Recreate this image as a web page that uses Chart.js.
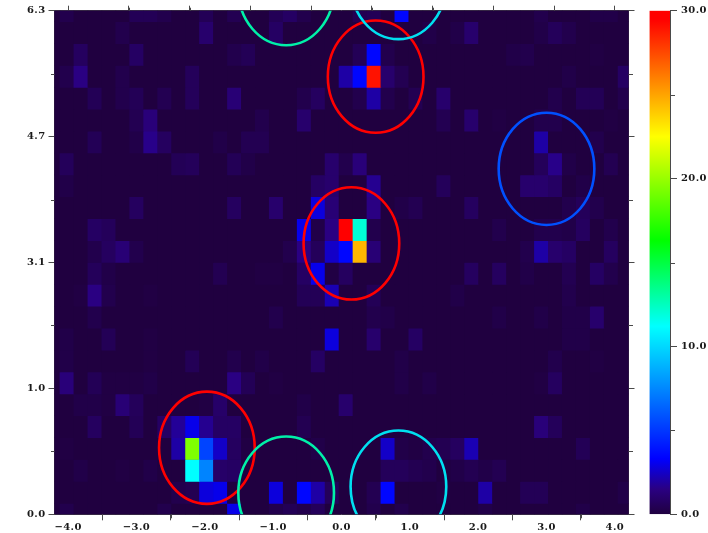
<!DOCTYPE html>
<html><head><meta charset="utf-8">
<style>
html,body{margin:0;padding:0;background:#fff;width:708px;height:533px;overflow:hidden}
canvas{position:absolute;top:0;filter:blur(0.45px)}
#map{left:0}
#bar{left:640px}
</style>
<script src="https://cdn.jsdelivr.net/npm/chart.js@4/dist/chart.umd.min.js"></script>
</head><body>
<canvas id="map" width="640" height="533"></canvas>
<canvas id="bar" width="68" height="533"></canvas>
<script>
// bin centres
const xCenters=[-4.222,-4.018,-3.814,-3.609,-3.405,-3.201,-2.997,-2.793,-2.588,-2.384,-2.180,-1.976,-1.772,-1.567,-1.363,-1.159,-0.955,-0.751,-0.546,-0.342,-0.138,0.066,0.270,0.475,0.679,0.883,1.087,1.291,1.496,1.700,1.904,2.108,2.312,2.517,2.721,2.925,3.129,3.333,3.538,3.742,3.946,4.150];
const yCenters=[6.283,6.010,5.736,5.463,5.190,4.917,4.644,4.371,4.098,3.824,3.551,3.278,3.005,2.732,2.459,2.185,1.912,1.639,1.366,1.093,0.820,0.546,0.273,0];
const yHalf=0.1366;
// counts per bin, top row first
const counts=[
[0,.3,0,0,0,0,.5,.5,.3,0, 0,.5,0,.4,0,0,.5,.8,.3,0, 0,0,.4,.5,0,3.5,0,0,0,0, 0,0,0,0,0,.3,0,0,0,.2, .2,0],
[0,0,0,0,0,.3,0,0,0,0, 0,1,0,0,0,0,.8,0,0,0, 0,0,0,0,0,0,0,.2,0,.2, 1,0,0,0,0,.2,.6,.3,0,0, 0,0],
[0,0,.7,0,0,0,.8,0,0,0, 0,0,0,.3,.5,0,0,0,0,0, 0,0,.5,3.5,.3,0,0,0,0,0, 0,0,0,.2,.3,0,0,0,0,.1, 0,0],
[0,.3,1.5,0,0,.3,0,0,0,0, .6,0,0,0,0,0,0,0,0,0, 0,2,3.5,29,1,.4,0,0,0,0, 0,0,0,0,0,0,0,.2,0,0, 0,.8],
[0,0,0,.5,0,.3,.5,0,.4,0, .6,0,0,1.2,0,0,0,0,.3,.7, 0,0,.3,2,.3,0,.4,0,1,0, 0,0,0,0,0,0,.3,0,.5,.5, 0,.3],
[0,0,0,0,0,0,.4,1.3,0,0, 0,0,0,0,0,.3,0,0,1,0, 0,0,0,0,0,0,0,0,.4,0, 1,0,.1,0,0,.3,.3,0,0,0, .1,0],
[0,0,0,.5,0,0,.2,1.6,.7,0, 0,0,.2,0,.4,.4,0,0,0,0, 0,0,0,0,0,0,0,0,0,0, 0,0,0,0,0,2,0,0,0,.3, 0,0],
[0,.6,0,0,0,0,0,0,0,.5, .6,0,0,.5,.2,0,0,0,0,0, 1,.3,1.3,0,0,0,0,0,0,0, 0,0,0,0,0,.6,1.6,.2,0,0, .4,0],
[0,.2,0,0,0,0,0,0,0,0, 0,0,0,0,0,0,0,0,0,.8, 1,0,0,1.7,0,0,0,0,.6,0, 0,0,0,0,1,1,.8,0,.2,0, 0,0],
[0,0,0,0,0,0,.7,0,0,0, 0,0,0,.7,0,0,1,0,0,2.8, 1.2,0,0,1.5,0,.2,.4,0,0,0, .7,0,0,0,0,0,0,.3,.6,.3, 0,0],
[0,0,0,.8,.6,0,0,0,0,0, 0,0,0,0,0,0,0,0,3,.2, 1.5,30,12,.3,0,0,0,0,0,0, 0,0,.3,0,0,.3,.3,.2,.7,0, .3,0],
[0,0,0,.3,.7,1.2,.3,0,0,0, 0,0,0,0,0,0,0,.3,1.5,.6, 2.5,3.5,24.5,1.2,0,0,0,0,0,0, 0,0,0,0,.3,2,1,.8,0,0, .7,0],
[0,0,0,.6,.2,0,0,0,0,0, 0,0,.4,0,0,.1,.1,0,.8,3, .1,.7,0,0,0,0,0,0,0,0, .7,0,.7,0,.2,0,0,.4,0,.8, .3,0],
[0,0,.1,1.5,.3,0,0,.1,0,0, 0,0,0,0,0,0,0,0,.5,.5, 2.2,0,0,.5,0,0,0,0,0,.2, 0,0,0,0,0,0,0,.3,0,0, 0,0],
[0,0,0,.3,0,0,0,0,0,0, 0,0,0,0,0,0,.3,0,0,0, 0,0,0,.3,.2,0,0,0,0,0, 0,0,.2,0,0,.2,0,.2,.2,1, 0,0],
[0,.2,0,0,.5,0,0,.1,0,0, 0,0,0,0,0,0,0,0,0,0, 2.8,0,0,1,0,0,.8,0,0,0, 0,0,0,0,0,0,0,.2,.2,0, 0,0],
[0,.2,0,0,0,0,0,.1,0,0, .5,0,0,.3,0,.2,0,0,0,.8, 0,0,0,0,0,.2,0,0,0,0, 0,0,0,0,0,0,.3,0,0,.1, 0,0],
[0,1.3,0,.5,.1,.1,.1,.2,0,0, 0,0,0,1.5,.5,0,.1,0,0,0, 0,0,0,0,0,.2,0,.2,0,0, 0,0,0,0,0,.1,.7,0,0,0, 0,0],
[0,0,.2,.2,.1,1.2,.6,0,0,0, 0,.1,.9,0,0,0,0,0,.2,0, 0,1,0,0,0,0,0,0,0,0, 0,0,0,0,0,0,0,0,0,0, 0,0],
[0,0,0,.7,0,0,.5,0,.8,1.8, 3,1.7,.8,.8,0,0,0,0,.4,0, 0,0,0,0,0,0,0,0,0,0, 0,0,0,0,0,1.3,.6,0,0,0, 0,0],
[0,.1,0,0,0,0,0,0,0,2, 19.4,5.4,2.5,.7,.1,0,0,0,0,.2, 0,0,0,0,2.5,.2,.1,.3,.4,.7, 2.2,0,0,0,0,0,0,0,.5,0, 0,0],
[0,0,.2,0,0,.1,0,.2,0,0, 11.2,7.4,.9,.8,0,0,0,0,0,0, 0,0,0,0,.6,.6,.4,.3,0,.2, .4,.2,.4,0,0,0,0,0,0,0, 0,0],
[0,0,0,0,0,0,0,0,0,.3, .4,2.8,3,0,0,0,2.8,0,3.5,2, .6,0,0,.4,3.5,0,0,0,.1,0, 0,2,0,0,.5,.5,0,0,0,0, 0,.2],
[0,.3,0,0,0,0,0,0,.3,0, 0,0,0,3,0,0,.3,.5,.3,.6, 0,0,0,.3,0,.3,0,0,0,0, 0,.2,0,0,0,0,0,0,.2,0, 0,0]
];
// circles marked on the map
const ringX=[0.50,0.145,-1.97,3.0,-0.81,-0.81,0.833,0.833];
const ringY=[5.46,3.38,0.83,4.31,0.27,6.553,0.345,6.628];
const ringColor=['#ff0000','#ff0000','#ff0000','#0050ff','#00f0a8','#00f0a8','#00e0f0','#00e0f0'];
const ringRadius=0.7;
// axes
const xMajor=[-4,-3,-2,-1,0,1,2,3,4];
const xMajorLabels=['−4.0','−3.0','−2.0','−1.0','0.0','1.0','2.0','3.0','4.0'];
const xMinor=[-3.5,-2.5,-1.5,-0.5,0.5,1.5,2.5,3.5];
const yMajor=[0,1.5708,3.1416,4.7124,6.2832];
const yMajorLabels=['0.0','1.0','3.1','4.7','6.3'];
const yMinor=[0.7854,2.3562,3.927,5.4978];
const barMajor=[0,10,20,30];
const barLabels=['0.0','10.0','20.0','30.0'];
const barMinor=[5,15,25];
// colour table: value, r, g, b
const stopValue=[0,1.5,3.3,11.2,16.3,22.5,29.5,30];
const stopRGB=[[32,0,64],[42,0,130],[0,0,255],[0,255,255],[0,255,0],[255,255,0],[255,0,0],[255,0,0]];
const MIN_COUNT=0,MAX_COUNT=30;

function colorFor(v){
  let i=0;while(i<stopValue.length-2&&v>stopValue[i+1])i++;
  const t=Math.min(1,(v-stopValue[i])/(stopValue[i+1]-stopValue[i]));
  const a=stopRGB[i],b=stopRGB[i+1];
  return 'rgb('+a.map((c,k)=>Math.round(c+(b[k]-c)*t)).join(',')+')';
}
const AXIS='#4a4a4a',TEXT='#1a1a1a';
const FONT={family:'"DejaVu Serif"',size:10,weight:'bold'};
const fixW=w=>s=>{s.width=w;};
const fixH=h=>s=>{s.height=h;};
const setTicks=vals=>s=>{s.ticks=vals.map(v=>({value:v}));};
const fmt=(vals,labels)=>v=>{const i=vals.indexOf(v);return i<0?'':labels[i];};

const axisCommon={
  grid:{drawOnChartArea:false,tickColor:AXIS,tickWidth:1},
  border:{color:AXIS,width:1}
};
const datasets=counts.map((row,r)=>({
  data:row.map((v,c)=>({x:xCenters[c],y:[yCenters[r]-yHalf,yCenters[r]+yHalf]})),
  backgroundColor:row.map(colorFor),
  borderWidth:0,barPercentage:1,categoryPercentage:1,grouped:false
}));
function minor(chart,scale,vals,len,dir){
  const c=chart.ctx;c.save();c.strokeStyle=AXIS;c.lineWidth=1;c.beginPath();
  vals.forEach(v=>{
    const p=Math.round(scale.getPixelForValue(v))+0.5;
    if(dir==='b'){c.moveTo(p,scale.top);c.lineTo(p,scale.top+len);}
    if(dir==='t'){c.moveTo(p,scale.bottom);c.lineTo(p,scale.bottom-len);}
    if(dir==='l'){c.moveTo(scale.right,p);c.lineTo(scale.right-len,p);}
    if(dir==='r'){c.moveTo(scale.left,p);c.lineTo(scale.left+len,p);}
  });
  c.stroke();c.restore();
}
const spacing={id:'spacing',beforeDraw(ch){ch.ctx.letterSpacing='0.4px';}};
new Chart(document.getElementById('map'),{
  type:'bar',
  data:{datasets},
  options:{
    responsive:false,animation:false,devicePixelRatio:1,
    layout:{padding:0},
    plugins:{legend:{display:false},tooltip:{enabled:false}},
    scales:{
      x:{type:'linear',position:'bottom',min:-4.2,max:4.2,offset:false,
        ...axisCommon,grid:{...axisCommon.grid,tickLength:6},
        afterFit:fixH(18.7),afterBuildTicks:setTicks(xMajor),
        ticks:{font:FONT,color:TEXT,padding:1,maxRotation:0,autoSkip:false,callback:fmt(xMajor,xMajorLabels)}},
      xTop:{type:'linear',position:'top',min:-4.2,max:4.2,
        ...axisCommon,grid:{...axisCommon.grid,tickLength:5},
        afterFit:fixH(10.7),afterBuildTicks:setTicks(xMajor),
        ticks:{display:false}},
      y:{type:'linear',position:'left',min:0,max:6.2832,
        ...axisCommon,grid:{...axisCommon.grid,tickLength:6},
        afterFit:fixW(54.5),afterBuildTicks:setTicks(yMajor),
        ticks:{font:FONT,color:TEXT,padding:3,autoSkip:false,callback:fmt(yMajor,yMajorLabels)}},
      yRight:{type:'linear',position:'right',min:0,max:6.2832,
        ...axisCommon,grid:{...axisCommon.grid,tickLength:6},
        afterFit:fixW(11.5),afterBuildTicks:setTicks(yMajor),
        ticks:{display:false}}
    }
  },
  plugins:[spacing,{
    id:'mapExtras',
    beforeDatasetsDraw(ch){
      const a=ch.chartArea,c=ch.ctx;c.save();c.fillStyle=colorFor(0);
      c.fillRect(a.left,a.top,a.width,a.height);c.restore();
    },
    afterDatasetsDraw(ch){
      const a=ch.chartArea,c=ch.ctx,s=ch.scales;
      c.save();c.beginPath();c.rect(a.left,a.top,a.width,a.height);c.clip();
      c.lineWidth=2.6;
      ringX.forEach((x,i)=>{
        const px=s.x.getPixelForValue(x),py=s.y.getPixelForValue(ringY[i]);
        const rx=Math.abs(s.x.getPixelForValue(x+ringRadius)-px);
        const ry=Math.abs(s.y.getPixelForValue(ringY[i]+ringRadius)-py);
        c.strokeStyle=ringColor[i];c.beginPath();c.ellipse(px,py,rx,ry,0,0,Math.PI*2);c.stroke();
      });
      c.restore();
      minor(ch,s.x,xMinor,4,'b');
      minor(ch,s.xTop,xMinor,3,'t');
      minor(ch,s.y,yMinor,3.5,'l');
      minor(ch,s.yRight,yMinor,4.5,'r');
    }
  }]
});
new Chart(document.getElementById('bar'),{
  type:'bar',
  data:{labels:['counts'],datasets:[{
    data:[[MIN_COUNT,MAX_COUNT]],
    barPercentage:1,categoryPercentage:1,borderWidth:0,
    backgroundColor(ctx){
      const y=ctx.chart.scales.y;
      if(!y||!ctx.chart.chartArea)return colorFor(0);
      const g=ctx.chart.ctx.createLinearGradient(0,y.getPixelForValue(0),0,y.getPixelForValue(30));
      stopValue.forEach(v=>g.addColorStop((v-MIN_COUNT)/(MAX_COUNT-MIN_COUNT),colorFor(v)));
      return g;
    }
  }]},
  options:{
    responsive:false,animation:false,devicePixelRatio:1,
    layout:{padding:{left:9.5,top:10.7,bottom:18.7,right:0}},
    plugins:{legend:{display:false},tooltip:{enabled:false}},
    scales:{
      x:{display:false},
      y:{type:'linear',position:'right',min:MIN_COUNT,max:MAX_COUNT,
        ...axisCommon,grid:{...axisCommon.grid,tickLength:7},
        afterFit:fixW(38),afterBuildTicks:setTicks(barMajor),
        ticks:{font:FONT,color:TEXT,padding:4,autoSkip:false,callback:fmt(barMajor,barLabels)}}
    }
  },
  plugins:[spacing,{
    id:'barMinor',
    afterDatasetsDraw(ch){minor(ch,ch.scales.y,barMinor,5,'r');}
  }]
});
</script>
</body></html>
